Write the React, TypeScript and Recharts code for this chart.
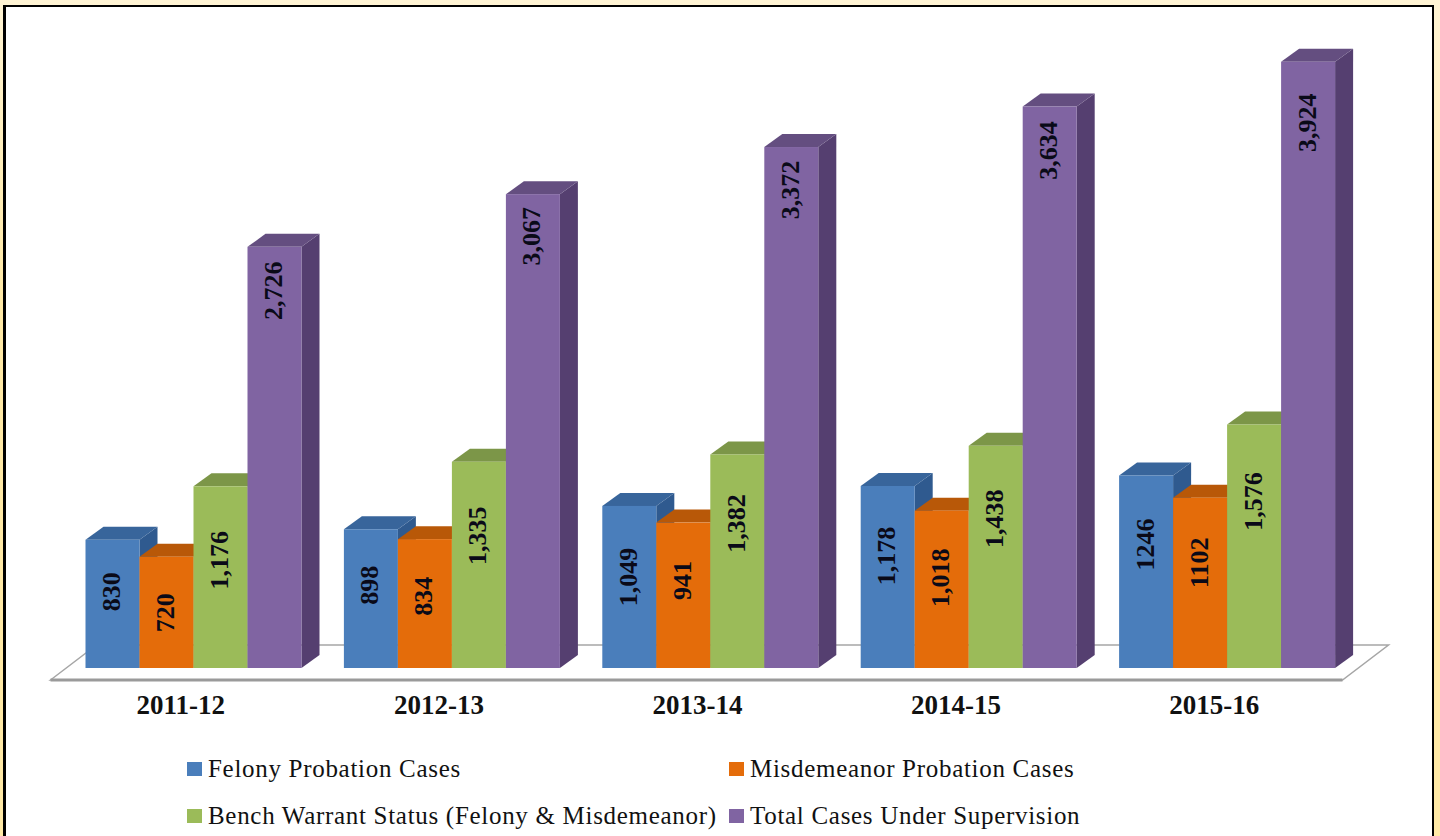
import { BarChart, Bar, XAxis, YAxis, Legend, LabelList, usePlotArea } from "recharts";

const years = ["2011-12", "2012-13", "2013-14", "2014-15", "2015-16"];
const felony = [830, 898, 1049, 1178, 1246];
const misdemeanor = [720, 834, 941, 1018, 1102];
const benchWarrant = [1176, 1335, 1382, 1438, 1576];
const totalCases = [2726, 3067, 3372, 3634, 3924];

const felonyText = ["830", "898", "1,049", "1,178", "1246"];
const misdemeanorText = ["720", "834", "941", "1,018", "1102"];
const benchWarrantText = ["1,176", "1,335", "1,382", "1,438", "1,576"];
const totalCasesText = ["2,726", "3,067", "3,372", "3,634", "3,924"];

// how far below the bar top each rotated label sits, in px
const felonyDrop = [52, 56, 71, 70, 69];
const misdemeanorDrop = [56, 57, 58, 67, 65];
const benchWarrantDrop = [74, 74, 69, 73, 77];
const totalCasesDrop = [44, 42, 43, 44, 61];

const chartData = years.map((year, i) => ({
  year,
  felony: felony[i],
  misdemeanor: misdemeanor[i],
  benchWarrant: benchWarrant[i],
  totalCases: totalCases[i],
}));

const FONT = '"Liberation Serif", serif';
const DEPTH_X = 18;
const DEPTH_Y = 13;

function box3d(front: string, top: string, side: string) {
  return (props: any) => {
    const { x, y, width, height } = props;
    const r = x + width;
    const b = y + height;
    return (
      <g>
        <polygon points={`${r},${y} ${r + DEPTH_X},${y - DEPTH_Y} ${r + DEPTH_X},${b - DEPTH_Y} ${r},${b}`} fill={side} />
        <polygon points={`${x},${y} ${x + DEPTH_X},${y - DEPTH_Y} ${r + DEPTH_X},${y - DEPTH_Y} ${r},${y}`} fill={top} />
        <rect x={x} y={y} width={width} height={height} fill={front} />
      </g>
    );
  };
}

function rotatedLabel(texts: string[], drops: number[]) {
  return (props: any) => {
    const { x, y, width, index } = props;
    const cx = x + width / 2 - 1;
    const cy = y + drops[index];
    return (
      <text
        x={cx}
        y={cy}
        transform={`rotate(-90 ${cx} ${cy})`}
        textAnchor="middle"
        dominantBaseline="central"
        fontFamily={FONT}
        fontWeight="bold"
        fontSize={26}
        fill="#0a0a18"
      >
        {texts[index]}
      </text>
    );
  };
}

function Floor() {
  const plot = usePlotArea();
  if (!plot) return null;
  const bottom = plot.y + plot.height;
  const left = plot.x;
  const right = plot.x + plot.width;
  const front = bottom + 12;
  const back = bottom - 23;
  return (
    <g>
      <polygon
        points={`${left - 14},${front} ${left + 32},${back} ${right + 32},${back} ${right - 14},${front}`}
        fill="#fff"
        stroke="#a6a6a6"
        strokeWidth={1.5}
      />
      <line x1={left - 14} y1={front} x2={right - 14} y2={front} stroke="#9a9a9a" strokeWidth={3} />
    </g>
  );
}

function YearTick(props: any) {
  const { x, y, payload } = props;
  return (
    <text x={x - 13} y={y} textAnchor="middle" dominantBaseline="central" fontFamily={FONT} fontWeight="bold" fontSize={27} fill="#111">
      {payload.value}
    </text>
  );
}

function LegendGrid(props: any) {
  const items = props.payload || [];
  return (
    <div
      style={{
        display: "grid",
        gridTemplateColumns: "542px 400px",
        fontFamily: FONT,
        fontSize: 25,
        letterSpacing: 0.7,
        color: "#111",
      }}
    >
      {items.map((item: any) => (
        <div key={item.value} style={{ display: "flex", alignItems: "center", height: 47, whiteSpace: "nowrap" }}>
          <span style={{ width: 15, height: 14, background: item.color, marginRight: 6, flex: "none" }} />
          <span>{item.value}</span>
        </div>
      ))}
    </div>
  );
}

export default function App() {
  return (
    <div
      style={{
        position: "absolute",
        left: 0,
        top: 0,
        width: 1440,
        height: 836,
        background: "linear-gradient(#fff4d4, #ffe9a6 300px)",
        overflow: "hidden",
      }}
    >
      <div
        style={{
          position: "absolute",
          left: 3,
          top: 5,
          width: 1426,
          height: 840,
          background: "#fff",
          borderStyle: "solid",
          borderColor: "#000",
          borderWidth: "2px 2px 0 3px",
        }}
      />
      <div style={{ position: "absolute", left: 0, top: 0 }}>
        <BarChart
          width={1440}
          height={836}
          data={chartData}
          margin={{ top: 50, right: 83.5, bottom: 128, left: 64.5 }}
          barCategoryGap={21}
          barGap={0}
        >
          <Floor />
          <XAxis dataKey="year" height={40} axisLine={false} tickLine={false} tick={<YearTick />} tickMargin={31} interval={0} />
          <YAxis hide domain={[0, 4000]} />
          <Legend
            layout="horizontal"
            verticalAlign="middle"
            align="center"
            itemSorter={null}
            content={<LegendGrid />}
            wrapperStyle={{ left: 187, top: 745, width: 942 }}
          />
          <Bar dataKey="felony" name="Felony Probation Cases" fill="#4a7ebb" isAnimationActive={false} shape={box3d("#4a7ebb", "#38659b", "#2f5a8f")}>
            <LabelList dataKey="felony" content={rotatedLabel(felonyText, felonyDrop)} />
          </Bar>
          <Bar dataKey="misdemeanor" name="Misdemeanor Probation Cases" fill="#e46c0a" isAnimationActive={false} shape={box3d("#e46c0a", "#b85808", "#a85007")}>
            <LabelList dataKey="misdemeanor" content={rotatedLabel(misdemeanorText, misdemeanorDrop)} />
          </Bar>
          <Bar dataKey="benchWarrant" name="Bench Warrant Status (Felony & Misdemeanor)" fill="#9bbb59" isAnimationActive={false} shape={box3d("#9bbb59", "#7c9648", "#708840")}>
            <LabelList dataKey="benchWarrant" content={rotatedLabel(benchWarrantText, benchWarrantDrop)} />
          </Bar>
          <Bar dataKey="totalCases" name="Total Cases Under Supervision" fill="#8064a2" isAnimationActive={false} shape={box3d("#8064a2", "#644e80", "#553f70")}>
            <LabelList dataKey="totalCases" content={rotatedLabel(totalCasesText, totalCasesDrop)} />
          </Bar>
        </BarChart>
      </div>
    </div>
  );
}
